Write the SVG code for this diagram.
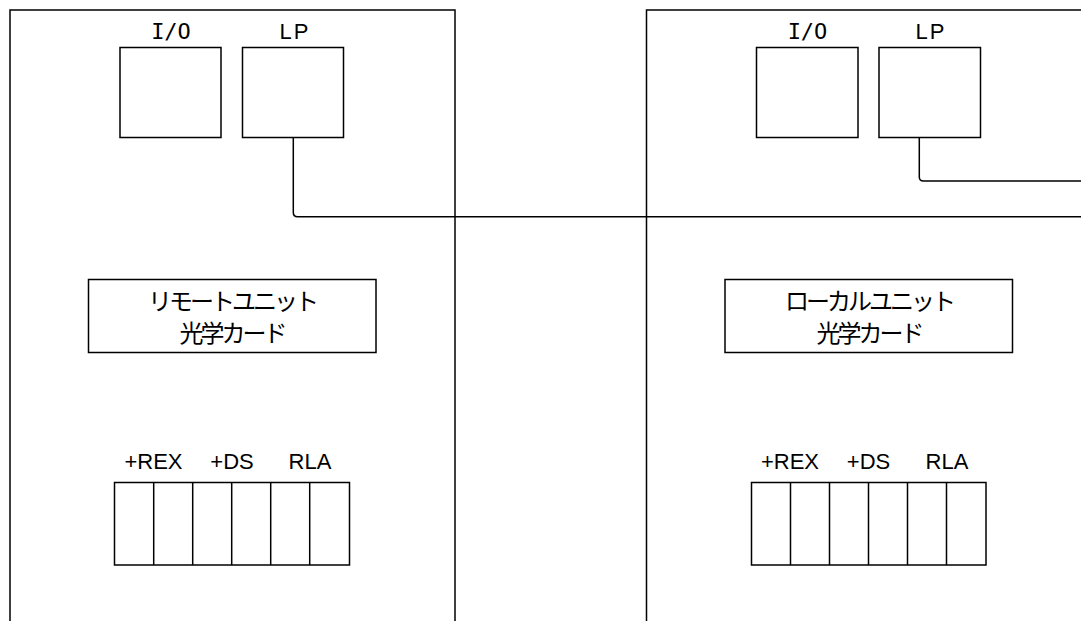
<svg xmlns="http://www.w3.org/2000/svg" width="1081" height="621" viewBox="0 0 1081 621">
<style>
.b{fill:none;stroke:#000;stroke-width:1.5}
.w{fill:#fff;stroke:#000;stroke-width:1.5}
.c{fill:none;stroke:#000;stroke-width:1.5}
.lbl{font-family:"Liberation Sans",Arial,sans-serif;font-size:22px;fill:#000;text-anchor:middle}
.lp{font-family:"Liberation Sans",Arial,sans-serif;font-size:22px;fill:#000;text-anchor:middle;letter-spacing:2px}
.mono{font-family:"DejaVu Sans Mono","Liberation Mono",monospace;font-size:22px;fill:#000;text-anchor:middle}
.jp{font-family:"Noto Sans CJK JP","Noto Sans",sans-serif;font-size:24px;fill:#000;text-anchor:middle;letter-spacing:-3px}
</style>
<rect width="1081" height="621" fill="#fff"/>
<g id="remote-unit">
<rect class="b" x="10" y="10" width="445" height="640"/>
</g>
<g id="local-unit">
<rect class="b" x="646.5" y="10" width="460" height="640"/>
</g>
<g id="remote-io">
<rect class="w" x="120" y="47.5" width="101" height="90"/>
<text class="mono" x="171" y="39">I/O</text>
</g>
<g id="remote-lp">
<rect class="w" x="242.5" y="47.5" width="101" height="90"/>
<text class="lp" x="295" y="39">LP</text>
</g>
<g id="local-io">
<rect class="w" x="756.5" y="47.5" width="101.5" height="90"/>
<text class="mono" x="807.5" y="39">I/O</text>
</g>
<g id="local-lp">
<rect class="w" x="879" y="47.5" width="101.5" height="90"/>
<text class="lp" x="931" y="39">LP</text>
</g>
<g id="remote-card">
<rect class="w" x="88.5" y="279.5" width="287.5" height="73"/>
<text class="jp" x="232" y="310">リモートユニット</text>
<text class="jp" x="232" y="342">光学カード</text>
</g>
<g id="local-card">
<rect class="w" x="725" y="279.5" width="287.5" height="73"/>
<text class="jp" x="869" y="310">ローカルユニット</text>
<text class="jp" x="869" y="342">光学カード</text>
</g>
<g id="remote-terminal">
<rect class="w" x="114.5" y="482.5" width="235" height="82.5"/>
<path class="b" d="M153.7,482.5V565M192.7,482.5V565M231.7,482.5V565M270.7,482.5V565M309.7,482.5V565"/>
<text class="lbl" x="153.5" y="469">+REX</text>
<text class="lbl" x="232" y="469">+DS</text>
<text class="lbl" x="310" y="469">RLA</text>
</g>
<g id="local-terminal">
<rect class="w" x="751.5" y="482.5" width="234.5" height="82.5"/>
<path class="b" d="M790.5,482.5V565M829.5,482.5V565M868.5,482.5V565M907.5,482.5V565M946.5,482.5V565"/>
<text class="lbl" x="790" y="469">+REX</text>
<text class="lbl" x="868.5" y="469">+DS</text>
<text class="lbl" x="947" y="469">RLA</text>
</g>
<g id="connectors">
<path class="c" d="M293.3,137.5V212.5Q293.3,216.7 297.5,216.7H1085"/>
<path class="c" d="M919.3,137.5V177Q919.3,181 923.5,181H1085"/>
</g>
</svg>
